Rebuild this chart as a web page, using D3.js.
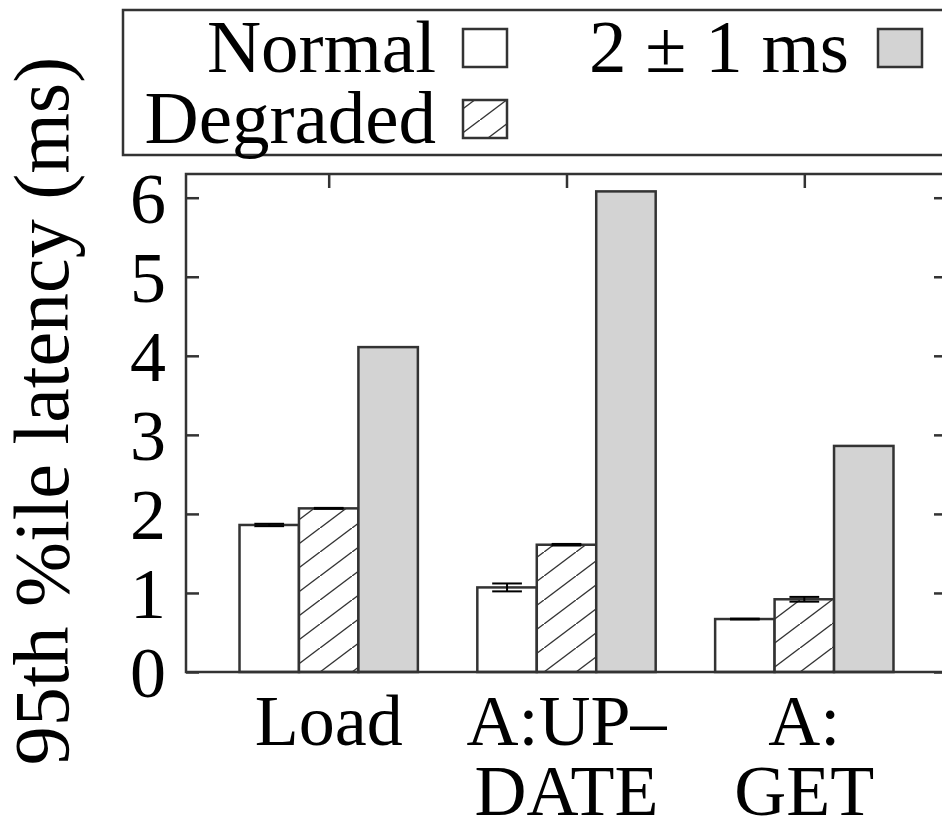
<!DOCTYPE html>
<html>
<head>
<meta charset="utf-8">
<script src="https://cdn.jsdelivr.net/npm/d3@7"></script>
<style>
  body { margin: 0; background: #fff; }
  svg { display: block; }
  text { font-family: "Liberation Serif", "Times New Roman", serif; fill: #000; }
</style>
</head>
<body>
<div id="chart"></div>
<script>
// valores
var categories = ['Load', 'A:UP–DATE', 'A:GET'];
var catLines = [['Load'], ['A:UP–', 'DATE'], ['A:', 'GET']];
var seriesNames = ['Normal', 'Degraded', '2 ± 1 ms'];
var normal = [1.86, 1.07, 0.67];
var normalErr = [0.015, 0.05, 0.005];
var degraded = [2.07, 1.61, 0.92];
var degradedErr = [0.006, 0.01, 0.03];
var delayed = [4.11, 6.08, 2.86];
var yTicks = [0, 1, 2, 3, 4, 5, 6];

var W = 942, H = 825;
// margens do quadro (pTop etc. - "top" já existe no window)
var pLeft = 186, pRight = 947, pTop = 174, pBottom = 672;
var ink = '#333';

var svg = d3.select('#chart').append('svg')
  .attr('width', W).attr('height', H);

var defs = svg.append('defs');
var pat = defs.append('pattern')
  .attr('id', 'hatch')
  .attr('patternUnits', 'userSpaceOnUse')
  .attr('width', 32).attr('height', 24);
pat.append('rect').attr('width', 32).attr('height', 24).attr('fill', '#fff');
pat.append('path')
  .attr('d', 'M-8,30 L40,-6')
  .attr('stroke', ink).attr('stroke-width', 1.4);

var x = d3.scaleLinear().domain([-0.6, 2.6]).range([pLeft, pRight]);
var y = d3.scaleLinear().domain([0, 6.3]).range([pBottom, pTop]);
var bw = 0.25;

var series = [
  {name: seriesNames[0], vals: normal, err: normalErr, fill: '#fff'},
  {name: seriesNames[1], vals: degraded, err: degradedErr, fill: 'url(#hatch)'},
  {name: seriesNames[2], vals: delayed, err: null, fill: '#d3d3d3'}
];

// eixos (ticks para dentro)
var idx = categories.map(function(d, i){ return i; });

svg.append('g')
  .attr('transform', 'translate(' + pLeft + ',0)')
  .call(d3.axisLeft(y).tickValues(yTicks).tickSize(-13).tickPadding(20).tickFormat(d3.format('d')))
  .call(function(g){
    g.select('.domain').remove();
    g.selectAll('line').attr('stroke', ink).attr('stroke-width', 2.5);
    g.selectAll('text').attr('font-size', 72).attr('font-family', null).attr('dy', '0.34em');
  });

svg.append('g')
  .attr('transform', 'translate(' + pRight + ',0)')
  .call(d3.axisRight(y).tickValues(yTicks).tickSize(-13).tickFormat(''))
  .call(function(g){
    g.select('.domain').remove();
    g.selectAll('line').attr('stroke', ink).attr('stroke-width', 2.5);
  });

svg.append('g')
  .attr('transform', 'translate(0,' + pTop + ')')
  .call(d3.axisTop(x).tickValues(idx).tickSize(-14).tickFormat(''))
  .call(function(g){
    g.select('.domain').remove();
    g.selectAll('line').attr('stroke', ink).attr('stroke-width', 2.5);
  });

svg.append('g')
  .attr('transform', 'translate(0,' + pBottom + ')')
  .call(d3.axisBottom(x).tickValues(idx).tickSize(-14).tickFormat(''))
  .call(function(g){
    g.select('.domain').remove();
    g.selectAll('line').attr('stroke', ink).attr('stroke-width', 2.5);
  });

// barras
series.forEach(function(s, si){
  var off = (si - 1) * bw;
  svg.append('g').selectAll('rect')
    .data(s.vals)
    .enter().append('rect')
    .attr('x', function(d, i){ return x(i + off - bw / 2); })
    .attr('y', function(d){ return y(d); })
    .attr('width', function(d, i){ return x(i + off + bw / 2) - x(i + off - bw / 2); })
    .attr('height', function(d){ return y(0) - y(d); })
    .attr('fill', s.fill)
    .attr('stroke', ink).attr('stroke-width', 2.5);

  if (s.err) {
    var eg = svg.append('g').attr('stroke', '#000').attr('stroke-width', 2);
    s.vals.forEach(function(v, i){
      var cx = x(i + off), hw = (x(bw / 4) - x(0));
      var lo = y(v - s.err[i]), hi = y(v + s.err[i]);
      eg.append('line').attr('x1', cx).attr('x2', cx).attr('y1', lo).attr('y2', hi);
      eg.append('line').attr('x1', cx - hw).attr('x2', cx + hw).attr('y1', lo).attr('y2', lo);
      eg.append('line').attr('x1', cx - hw).attr('x2', cx + hw).attr('y1', hi).attr('y2', hi);
    });
  }
});

// moldura
svg.append('rect')
  .attr('x', pLeft).attr('y', pTop)
  .attr('width', pRight - pLeft).attr('height', pBottom - pTop)
  .attr('fill', 'none').attr('stroke', ink).attr('stroke-width', 2.5);

// rótulos do eixo x
catLines.forEach(function(lines, i){
  var t = svg.append('text')
    .attr('text-anchor', 'middle')
    .attr('font-size', 72)
    .attr('x', x(i)).attr('y', 745);
  lines.forEach(function(l, li){
    t.append('tspan').attr('x', x(i)).attr('dy', li === 0 ? 0 : 70).text(l);
  });
});

// rótulo do eixo y
svg.append('text')
  .attr('transform', 'translate(68,' + 411 + ') rotate(-90)')
  .attr('text-anchor', 'middle')
  .attr('font-size', 78)
  .text('95th %ile latency (ms)');

// legenda
var lg = svg.append('g');
lg.append('rect')
  .attr('x', 123).attr('y', 10).attr('width', 900).attr('height', 145)
  .attr('fill', '#fff').attr('stroke', ink).attr('stroke-width', 2.5);

var legendPos = [
  {tx: 436, ty: 72, sx: 463},
  {tx: 436, ty: 143, sx: 463},
  {tx: 849, ty: 72, sx: 878}
];
series.forEach(function(s, si){
  var p = legendPos[si];
  lg.append('text')
    .attr('x', p.tx).attr('y', p.ty)
    .attr('text-anchor', 'end')
    .attr('font-size', 75)
    .text(s.name);
  lg.append('rect')
    .attr('x', p.sx).attr('y', p.ty - 43)
    .attr('width', 44).attr('height', 38)
    .attr('fill', s.fill)
    .attr('stroke', ink).attr('stroke-width', 2.5);
});
</script>
</body>
</html>
